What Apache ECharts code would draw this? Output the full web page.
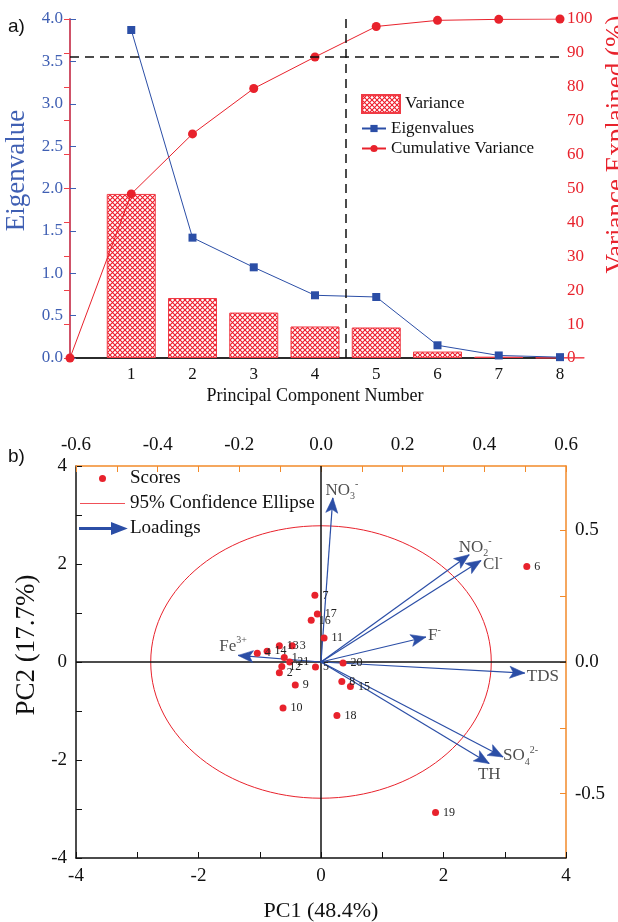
<!DOCTYPE html>
<html>
<head>
<meta charset="utf-8">
<title>PCA scree plot and biplot</title>
<script src="https://cdn.jsdelivr.net/npm/echarts@6/dist/echarts.min.js"></script>
<style>
html, body { margin: 0; padding: 0; background: #fff; }
#chart { width: 618px; height: 922px; }
</style>
</head>
<body>
<div id="chart"></div>
<script>
// a) scree plot
const pcNumbers = [1, 2, 3, 4, 5, 6, 7, 8];
const eigenvalues = [3.87, 1.42, 1.07, 0.74, 0.72, 0.15, 0.03, 0.01];
const varianceExplained = [48.4, 17.7, 13.4, 9.3, 9.0, 1.9, 0.4, 0.1];
const cumulativePc = [0, 1, 2, 3, 4, 5, 6, 7, 8];
const cumulativeVariance = [0, 48.4, 66.1, 79.5, 88.8, 97.8, 99.6, 99.9, 100];
const cutoffVariance = 88.8;
const cutoffPc = 4.5;

// b) biplot
const sampleIds = ['1', '2', '3', '4', '5', '6', '7', '8', '9', '10', '11',
  '12', '13', '14', '15', '16', '17', '18', '19', '20', '21'];
const scoresPC1 = [-0.60, -0.68, -0.47, -1.04, -0.09, 3.36, -0.10, 0.34, -0.42, -0.62, 0.05,
  -0.64, -0.68, -0.88, 0.48, -0.16, -0.06, 0.26, 1.87, 0.36, -0.51];
const scoresPC2 = [0.09, -0.22, 0.33, 0.18, -0.10, 1.95, 1.36, -0.40, -0.47, -0.94, 0.49,
  -0.09, 0.33, 0.22, -0.50, 0.85, 0.98, -1.09, -3.07, -0.02, 0.00];
const variables = ['NO3-', 'NO2-', 'Cl-', 'F-', 'TDS', 'SO4 2-', 'TH', 'Fe3+'];
const loadingPC1 = [0.029, 0.363, 0.392, 0.257, 0.499, 0.446, 0.412, -0.203];
const loadingPC2 = [0.624, 0.408, 0.386, 0.095, -0.042, -0.361, -0.386, 0.025];
const ellipseCenter = [0, 0];
const ellipseRadius = [2.78, 2.78];

const BLUE = '#2b4ea6'
const AXIS_BLUE = '#3f5fb3'
const RED = '#e8222c'
const ORANGE = '#f28a2a'
const FONT = 'Liberation Serif'

// rich text for the variable names
const variableText = {
  'NO3-': '{t|NO}{sub|3}{sup|-}',
  'NO2-': '{t|NO}{sub|2}{sup|-}',
  'Cl-': '{t|Cl}{sup|-}',
  'F-': '{t|F}{sup|-}',
  'TDS': '{t|TDS}',
  'SO4 2-': '{t|SO}{sub|4}{sup|2-}',
  'TH': '{t|TH}',
  'Fe3+': '{t|Fe}{sup|3+}'
}
const variableLabelPlace = {
  'NO3-': { position: 'top', offset: [9, 6] },
  'NO2-': { position: 'top', offset: [6, 6] },
  'Cl-': { position: 'right', offset: [0, 4] },
  'F-': { position: 'right', offset: [0, -1] },
  'TDS': { position: 'right', offset: [0, 3] },
  'SO4 2-': { position: 'right', offset: [-2, -1] },
  'TH': { position: 'bottom', offset: [0, -2] },
  'Fe3+': { position: 'top', offset: [-5, 4] }
}

function hatchPattern() {
  const c = document.createElement('canvas')
  c.width = 5
  c.height = 5
  const g = c.getContext('2d')
  g.fillStyle = '#fff'
  g.fillRect(0, 0, 5, 5)
  g.strokeStyle = '#ee1c2a'
  g.lineWidth = 1.1
  g.beginPath()
  g.moveTo(0, 0); g.lineTo(5, 5)
  g.moveTo(5, 0); g.lineTo(0, 5)
  g.stroke()
  return c
}

// filled notched arrow head whose point sits on the loading tip
function renderArrowHead(params, api) {
  const p0 = api.coord([0, 0])
  const p1 = api.coord([api.value(0), api.value(1)])
  const dx = p1[0] - p0[0]
  const dy = p1[1] - p0[1]
  const len = Math.sqrt(dx * dx + dy * dy) || 1
  const ux = dx / len
  const uy = dy / len
  const headLen = 15
  const halfW = 6
  const notch = 3.5
  const bx = p1[0] - ux * headLen
  const by = p1[1] - uy * headLen
  const nx = p1[0] - ux * (headLen - notch)
  const ny = p1[1] - uy * (headLen - notch)
  return {
    type: 'polygon',
    shape: {
      points: [
        [p1[0], p1[1]],
        [bx - uy * halfW, by + ux * halfW],
        [nx, ny],
        [bx + uy * halfW, by - ux * halfW]
      ]
    },
    style: { fill: BLUE, stroke: BLUE, lineWidth: 0.6 }
  }
}

const chart = echarts.init(document.getElementById('chart'))

const tickInside = (color, len) => ({ show: true, inside: true, length: len || 6, lineStyle: { color: color, width: 1 } })

const option = {
  animation: false,
  textStyle: { fontFamily: FONT },
  title: [
    { text: 'a)', left: 3, top: 12, padding: 5, textStyle: { fontFamily: 'Liberation Sans', fontSize: 19, fontWeight: 'normal', color: '#111' } },
    { text: 'b)', left: 3, top: 442, padding: 5, textStyle: { fontFamily: 'Liberation Sans', fontSize: 19, fontWeight: 'normal', color: '#111' } }
  ],
  grid: [
    { left: 70, right: 58, top: 19, height: 339, outerBoundsMode: 'none', containLabel: false },
    { left: 76, right: 52, top: 466, height: 392, outerBoundsMode: 'none', containLabel: false }
  ],
  legend: [
    {
      data: [{ name: 'Variance', icon: 'rect' }], left: 361, top: 94, padding: 0, itemWidth: 38, itemHeight: 18,
      textStyle: { fontSize: 17, color: '#111', fontFamily: FONT }
    },
    {
      data: ['Eigenvalues', 'Cumulative Variance'], orient: 'vertical', left: 361, top: 120, padding: 0,
      itemWidth: 24, itemHeight: 9, itemGap: 3, itemTextGap: 6,
      textStyle: { fontSize: 17, color: '#111', fontFamily: FONT }
    },
    {
      orient: 'vertical', left: 79, top: 469, padding: 0, itemWidth: 45, itemHeight: 10, itemGap: 6,
      textStyle: { fontSize: 19, color: '#111', fontFamily: FONT },
      data: [
        { name: 'Scores', icon: 'path://M0,0M10,10M1.5,5a3.5,3.5 0 1,0 7,0a3.5,3.5 0 1,0 -7,0Z', itemStyle: { color: RED } },
        { name: '95% Confidence Ellipse', icon: 'path://M0,0L45,0L45,1L0,1Z', itemStyle: { color: '#f05058' } },
        { name: 'Loadings', icon: 'path://M0,4.4L32,4.4L32,0L45,5L32,10L32,5.6L0,5.6Z', itemStyle: { color: BLUE } }
      ]
    }
  ],
  xAxis: [
    {
      gridIndex: 0, type: 'value', min: 0, max: 8, interval: 1, position: 'bottom',
      name: 'Principal Component Number', nameLocation: 'middle', nameGap: 29,
      nameTextStyle: { fontSize: 18, color: '#111' },
      axisLine: { lineStyle: { color: '#111', width: 1.5 } },
      axisTick: tickInside('#111', 4),
      axisLabel: { fontSize: 17, color: '#111', margin: 8, formatter: v => (v === 0 ? '' : v) },
      splitLine: { show: false }
    },
    {
      gridIndex: 0, type: 'value', min: 0, max: 8, position: 'top',
      axisLine: { lineStyle: { color: '#222', width: 1.5 } },
      axisTick: { show: false }, axisLabel: { show: false }, splitLine: { show: false }
    },
    {
      gridIndex: 1, type: 'value', min: -4, max: 4, interval: 2, position: 'bottom',
      name: 'PC1 (48.4%)', nameLocation: 'middle', nameGap: 42,
      nameTextStyle: { fontSize: 22, color: '#111' },
      axisLine: { onZero: false, lineStyle: { color: '#111', width: 1.5 } },
      axisTick: tickInside('#111', 6),
      minorTick: { show: true, splitNumber: 2, length: 6, lineStyle: { color: '#111' } },
      axisLabel: { fontSize: 19, color: '#111', margin: 9 },
      splitLine: { show: false }
    },
    {
      gridIndex: 1, type: 'value', min: -0.6, max: 0.6, interval: 0.2, position: 'top',
      axisLine: { onZero: false, lineStyle: { color: ORANGE, width: 1.5 } },
      axisTick: tickInside(ORANGE, 6),
      minorTick: { show: true, splitNumber: 2, length: 6, lineStyle: { color: ORANGE } },
      axisLabel: { fontSize: 19, color: '#111', margin: 11, formatter: v => v.toFixed(1) },
      splitLine: { show: false }
    }
  ],
  yAxis: [
    {
      gridIndex: 0, type: 'value', min: 0, max: 4, interval: 0.5, position: 'left',
      name: 'Eigenvalue', nameLocation: 'middle', nameGap: 38, nameRotate: 90,
      nameTextStyle: { fontSize: 27, color: AXIS_BLUE, padding: [0, 0, 0, 36] },
      axisLine: { show: true, lineStyle: { color: AXIS_BLUE, width: 1.5 } },
      axisTick: tickInside(AXIS_BLUE, 6),
      axisLabel: { fontSize: 17, color: AXIS_BLUE, margin: 7, formatter: v => v.toFixed(1) },
      splitLine: { show: false }
    },
    {
      gridIndex: 0, type: 'value', min: 0, max: 100, interval: 10, position: 'right',
      name: 'Variance Explained (%)', nameLocation: 'middle', nameGap: 18, nameRotate: 90,
      nameTextStyle: { fontSize: 27, color: RED, padding: [0, 0, 0, 88] },
      axisLine: { show: true, lineStyle: { color: '#f04048', width: 1.5 } },
      axisTick: tickInside('#f04048', 6),
      axisLabel: { fontSize: 17, color: RED, margin: 7 },
      splitLine: { show: false }
    },
    {
      gridIndex: 1, type: 'value', min: -4, max: 4, interval: 2, position: 'left',
      name: 'PC2 (17.7%)', nameLocation: 'middle', nameGap: 30, nameRotate: 90,
      nameTextStyle: { fontSize: 27, color: '#111', padding: [0, 0, 0, 34] },
      axisLine: { show: true, onZero: false, lineStyle: { color: '#111', width: 1.5 } },
      axisTick: tickInside('#111', 6),
      minorTick: { show: true, splitNumber: 2, length: 6, lineStyle: { color: '#111' } },
      axisLabel: { fontSize: 19, color: '#111', margin: 9 },
      splitLine: { show: false }
    },
    {
      gridIndex: 1, type: 'value', min: -0.745, max: 0.745, position: 'right',
      axisLine: { show: true, onZero: false, lineStyle: { color: ORANGE, width: 1.5 } },
      axisTick: Object.assign(tickInside(ORANGE, 6), { customValues: [-0.5, -0.25, 0, 0.25, 0.5] }),
      axisLabel: { fontSize: 19, color: '#111', margin: 9, customValues: [-0.5, 0, 0.5], formatter: v => v.toFixed(1) },
      splitLine: { show: false }
    }
  ],
  series: [
    {
      name: 'Variance', type: 'bar', xAxisIndex: 0, yAxisIndex: 1, barWidth: 49,
      data: pcNumbers.map((pc, i) => [pc, varianceExplained[i]]),
      itemStyle: { color: { image: hatchPattern(), repeat: 'repeat' }, borderColor: '#f03a44', borderWidth: 1 },
      z: 1
    },
    {
      name: 'Eigenvalues', type: 'line', xAxisIndex: 0, yAxisIndex: 0,
      data: pcNumbers.map((pc, i) => [pc, eigenvalues[i]]),
      symbol: 'rect', symbolSize: 8, color: BLUE,
      lineStyle: { color: BLUE, width: 1 }, itemStyle: { color: BLUE },
      z: 3
    },
    {
      name: 'Cumulative Variance', type: 'line', xAxisIndex: 0, yAxisIndex: 1,
      data: cumulativePc.map((pc, i) => [pc, cumulativeVariance[i]]),
      symbol: 'circle', symbolSize: 9, color: RED,
      lineStyle: { color: RED, width: 1 }, itemStyle: { color: RED },
      markLine: {
        silent: true, symbol: 'none', label: { show: false },
        lineStyle: { color: '#111', type: [9, 6], width: 1.5 },
        data: [{ yAxis: cutoffVariance }, { xAxis: cutoffPc }]
      },
      z: 4
    },
    {
      name: '95% Confidence Ellipse', type: 'custom', xAxisIndex: 2, yAxisIndex: 2,
      data: [[ellipseCenter[0], ellipseCenter[1], ellipseRadius[0], ellipseRadius[1]]],
      encode: { x: 0, y: 1 },
      itemStyle: { color: RED },
      renderItem(params, api) {
        const c = api.coord([api.value(0), api.value(1)])
        const s = api.size([api.value(2), api.value(3)])
        return {
          type: 'ellipse',
          shape: { cx: c[0], cy: c[1], rx: s[0], ry: s[1] },
          style: { fill: 'none', stroke: RED, lineWidth: 1 }
        }
      },
      markLine: {
        silent: true, symbol: 'none', label: { show: false },
        lineStyle: { color: '#111', type: 'solid', width: 1.5 },
        data: [{ xAxis: 0 }, { yAxis: 0 }]
      },
      silent: true, z: 1
    },
    {
      // shafts of the loading vectors
      name: 'Loadings', type: 'lines', coordinateSystem: 'cartesian2d', xAxisIndex: 3, yAxisIndex: 3,
      data: variables.map((v, i) => ({ name: v, coords: [[0, 0], [loadingPC1[i], loadingPC2[i]]] })),
      symbol: 'none',
      lineStyle: { color: BLUE, width: 1.2, opacity: 1 },
      itemStyle: { color: BLUE },
      silent: true, z: 5
    },
    {
      name: 'loading heads', type: 'custom', xAxisIndex: 3, yAxisIndex: 3,
      data: variables.map((v, i) => [loadingPC1[i], loadingPC2[i]]),
      encode: { x: 0, y: 1 },
      renderItem: renderArrowHead,
      clip: false, silent: true, z: 6
    },
    {
      name: 'variable names', type: 'scatter', xAxisIndex: 3, yAxisIndex: 3,
      symbolSize: 0, silent: true,
      data: variables.map((v, i) => ({
        value: [loadingPC1[i], loadingPC2[i]],
        label: Object.assign({ show: true, distance: 2, formatter: variableText[v] }, variableLabelPlace[v])
      })),
      label: {
        color: '#222',
        rich: {
          t: { fontSize: 17, lineHeight: 22, color: '#222', fontFamily: FONT },
          sub: { fontSize: 10, lineHeight: 10, verticalAlign: 'bottom', color: '#222', fontFamily: FONT },
          sup: { fontSize: 10, lineHeight: 10, verticalAlign: 'top', color: '#222', fontFamily: FONT }
        }
      },
      z: 6
    },
    {
      name: 'Scores', type: 'scatter', xAxisIndex: 2, yAxisIndex: 2,
      data: sampleIds.map((id, i) => [scoresPC1[i], scoresPC2[i], id]),
      symbol: 'circle', symbolSize: 7, itemStyle: { color: RED, opacity: 1 },
      label: {
        show: true, position: 'right', distance: 4, fontSize: 12, color: '#222',
        formatter: p => p.value[2]
      },
      z: 7
    }
  ]
}

chart.setOption(option)
</script>
</body>
</html>
